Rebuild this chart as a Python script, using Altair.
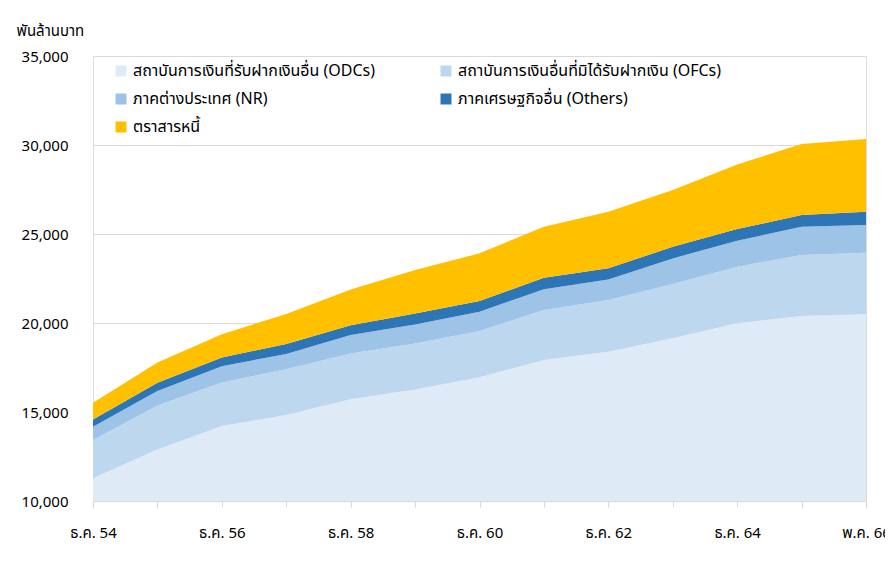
import altair as alt
import pandas as pd

periods = ["ธ.ค. 54", "ธ.ค. 55", "ธ.ค. 56", "ธ.ค. 57", "ธ.ค. 58", "ธ.ค. 59", "ธ.ค. 60",
           "ธ.ค. 61", "ธ.ค. 62", "ธ.ค. 63", "ธ.ค. 64", "ธ.ค. 65", "พ.ค. 66"]

series_names = [
    "สถาบันการเงินที่รับฝากเงินอื่น (ODCs)",
    "สถาบันการเงินอื่นที่มิได้รับฝากเงิน (OFCs)",
    "ภาคต่างประเทศ (NR)",
    "ภาคเศรษฐกิจอื่น (Others)",
    "ตราสารหนี้",
]
series_colors = ["#deeaf6", "#bdd7ee", "#9dc3e6", "#2e75b6", "#ffc000"]

odcs = [11275, 12900, 14210, 14830, 15710, 16270, 16950, 17920, 18390, 19140, 19980, 20390, 20490]
ofcs = [2150, 2470, 2450, 2570, 2580, 2580, 2600, 2810, 2900, 3050, 3180, 3430, 3460]
nr = [750, 805, 915, 860, 1030, 1070, 1085, 1160, 1160, 1440, 1460, 1590, 1555]
others = [410, 470, 490, 560, 560, 620, 600, 655, 620, 655, 655, 655, 750]
debt = [935, 1140, 1310, 1685, 2005, 2435, 2680, 2865, 3185, 3180, 3635, 3990, 4080]

values = [odcs, ofcs, nr, others, debt]
rows = []
for si, (name, vals) in enumerate(zip(series_names, values)):
    for pi, p in enumerate(periods):
        rows.append({"period": p, "series": name, "value": vals[pi], "order": si})
df = pd.DataFrame(rows)

FONT = "Tahoma, Noto Sans Thai, Noto Sans, sans-serif"

chart = alt.Chart(df).mark_area(clip=True, opacity=1).encode(
    x=alt.X("period:O", sort=periods, scale=alt.Scale(type="point", padding=0),
            axis=alt.Axis(title=None, labelAngle=0, labelFontSize=15, labelColor="#000000",
                          labelPadding=18, tickSize=6, tickColor="#d9d9d9", domainColor="#d9d9d9",
                          labelExpr="indexof(['" + "','".join(periods) + "'], datum.value) % 2 == 0 ? datum.value : ''",
                          grid=False, labelFont=FONT)),
    y=alt.Y("value:Q", stack="zero",
            scale=alt.Scale(domain=[10000, 35000], nice=False, zero=False),
            axis=alt.Axis(title="พันล้านบาท", titleAngle=0, titleX=-77, titleY=-26,
                          titleAlign="left", titleBaseline="middle", titleFontSize=15,
                          titleFontWeight="normal", titleFont=FONT, titleColor="#000000",
                          values=[10000, 15000, 20000, 25000, 30000, 35000], format=",.0f",
                          labelFontSize=15, labelColor="#000000", labelPadding=25,
                          labelFont=FONT,
                          ticks=False, domain=False, grid=True, gridColor="#d9d9d9")),
    color=alt.Color("series:N", sort=series_names,
                    scale=alt.Scale(domain=series_names, range=series_colors),
                    legend=alt.Legend(title=None, orient="none", legendX=20, legendY=7,
                                      direction="horizontal", columns=2, columnPadding=62,
                                      rowPadding=12, symbolType="square", symbolSize=121,
                                      symbolStrokeWidth=0, labelFontSize=16, labelFont=FONT,
                                      labelColor="#000000", labelLimit=400, gridAlign="each")),
    order=alt.Order("order:Q", sort="ascending"),
).properties(
    width=773, height=445,
    autosize=alt.AutoSizeParams(type="none"),
    padding={"left": 85, "top": 48, "right": 19, "bottom": 60},
).configure_view(stroke=None).configure(font=FONT)

chart.save("out.html", embed_options={"renderer": "svg", "actions": False})
